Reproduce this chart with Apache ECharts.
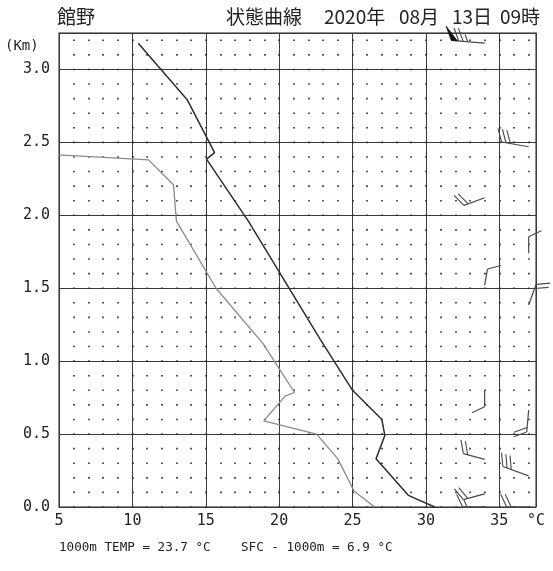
<!DOCTYPE html>
<html>
<head>
<meta charset="utf-8">
<script src="https://cdn.jsdelivr.net/npm/echarts@6/dist/echarts.min.js"></script>
<style>
  html, body { margin: 0; padding: 0; background: #ffffff; }
  #chart { width: 553px; height: 571px; }
</style>
</head>
<body>
<div id="chart"></div>
<script>
// Station and time stamp
const stationName = '館野';
const headerParts = ['状態曲線', '2020年', '08月', '13日', '09時'];

// Axis ranges and ticks
const tempMin = 5, tempMax = 37.5, tempStep = 5;
const kmMin = 0, kmMax = 3.25, kmStep = 0.5;
const unitLabel = '°C';
const kmLabel = '(Km)';

// Temperature profile (°C) against height (km)
const tempKm = [0.00, 0.08, 0.33, 0.49, 0.60, 0.80, 1.15, 1.96, 2.385, 2.43, 2.79, 3.18];
const tempC  = [30.6, 28.8, 26.6, 27.2, 27.0, 25.0, 22.8, 17.9, 15.05, 15.6, 13.75, 10.4];

// Dew point profile (°C) against height (km)
const dewKm = [0.00, 0.11, 0.33, 0.50, 0.59, 0.76, 0.785, 1.12, 1.50, 1.96, 2.21, 2.38, 2.47];
const dewC  = [26.5, 25.1, 24.0, 22.55, 18.95, 20.4, 21.05, 18.9, 15.7, 13.0, 12.8, 11.1, -5.0];

// Winds: plotting column (°C position), height (km), direction (deg), speed (kt)
const windCol = [34, 37, 34, 37, 34, 37, 34, 37, 34, 37, 34, 34, 37];
const windKm  = [3.18, 2.47, 2.12, 1.74, 1.52, 1.385, 0.80, 0.665, 0.327, 0.213, 0.09, 0.0, 0.0];
const windDir = [275, 280, 250, 360, 10, 20, 180, 185, 285, 290, 255, 270, 270];
const windKt  = [75, 30, 20, 10, 10, 20, 10, 20, 20, 30, 20, 15, 20];

// Summary values
const temp1000m = 23.7;
const sfcMinus1000m = 6.9;

const tempSeries = tempC.map((t, i) => [t, tempKm[i]]);
const dewSeries = dewC.map((t, i) => [t, dewKm[i]]);
const windSeries = windCol.map((c, i) => [c, windKm[i], windDir[i], windKt[i]]);

const monoFont = '"DejaVu Sans Mono", monospace';
const cjkFont = '"Noto Sans CJK JP", sans-serif';

// Height of 0.1 km in pixels, used for the dotted minor grid
const gridTop = 33, gridBottom = 64, chartH = 571;
const plotH = chartH - gridTop - gridBottom;
const tenthKmPx = plotH / ((kmMax - kmMin) * 10);

function renderBarb(params, api) {
  const base = api.coord([api.value(0), api.value(1)]);
  const a = api.value(2) * Math.PI / 180;
  const kt = api.value(3);
  const ux = Math.sin(a), uy = -Math.cos(a);
  const rx = -uy, ry = ux;
  const ang = 65 * Math.PI / 180;
  const fx = Math.cos(ang) * ux + Math.sin(ang) * rx;
  const fy = Math.cos(ang) * uy + Math.sin(ang) * ry;
  const pennants = Math.floor(kt / 50);
  const rest = kt - pennants * 50;
  const full = Math.floor(rest / 10);
  const half = (rest % 10) >= 5 ? 1 : 0;
  const step = 4.5, fLen = 14;
  const len = 11 + 6 * pennants + 5.5 * (full + half);
  const tip = [base[0] + ux * len, base[1] + uy * len];
  const stroke = '#4a4a4a';
  const children = [{
    type: 'line',
    shape: { x1: base[0], y1: base[1], x2: tip[0], y2: tip[1] },
    style: { stroke: stroke, lineWidth: 1.2 }
  }];
  let d = 0;
  for (let p = 0; p < pennants; p++) {
    const p0 = [tip[0] - ux * d, tip[1] - uy * d];
    const p1 = [tip[0] - ux * (d + 6), tip[1] - uy * (d + 6)];
    const apex = [p0[0] + fx * 15, p0[1] + fy * 15];
    children.push({
      type: 'polygon',
      shape: { points: [p0, p1, apex] },
      style: { fill: '#111', stroke: '#111', lineWidth: 0.8 }
    });
    d += 7.5;
  }
  for (let k = 0; k < full; k++) {
    const s0 = [tip[0] - ux * d, tip[1] - uy * d];
    children.push({
      type: 'line',
      shape: { x1: s0[0], y1: s0[1], x2: s0[0] + fx * fLen, y2: s0[1] + fy * fLen },
      style: { stroke: stroke, lineWidth: 1.1 }
    });
    d += step;
  }
  if (half) {
    if (d === 0) d = step;
    const s0 = [tip[0] - ux * d, tip[1] - uy * d];
    children.push({
      type: 'line',
      shape: { x1: s0[0], y1: s0[1], x2: s0[0] + fx * fLen * 0.55, y2: s0[1] + fy * fLen * 0.55 },
      style: { stroke: stroke, lineWidth: 1.1 }
    });
  }
  return { type: 'group', children: children };
}

const headerX = [226, 324, 399, 452, 500];
const graphics = [
  { type: 'text', x: 57, y: 17, style: { text: stationName, font: '19px ' + cjkFont, fill: '#222', verticalAlign: 'middle' } }
].concat(headerParts.map((t, i) => ({
  type: 'text', x: headerX[i], y: 17,
  style: { text: t, font: '19px ' + cjkFont, fill: '#222', verticalAlign: 'middle' }
}))).concat([
  { type: 'text', x: 5, y: 46, style: { text: kmLabel, font: '14px ' + monoFont, fill: '#222', verticalAlign: 'middle' } },
  { type: 'text', x: 59, y: 548,
    style: { text: '1000m TEMP = ' + temp1000m.toFixed(1) + ' °C    SFC - 1000m = ' + sfcMinus1000m.toFixed(1) + ' °C',
             font: '12.6px ' + monoFont, fill: '#222', verticalAlign: 'middle' } }
]);

const chart = echarts.init(document.getElementById('chart'), null, { renderer: 'canvas' });
chart.setOption({
  animation: false,
  backgroundColor: '#ffffff',
  grid: {
    left: 59, right: 17, top: gridTop, bottom: gridBottom,
    show: true, borderColor: '#6a6a6a', borderWidth: 1.5, backgroundColor: 'transparent'
  },
  xAxis: [{
    type: 'value', min: tempMin, max: tempMax, interval: tempStep,
    axisLine: { show: false }, axisTick: { show: false },
    axisLabel: {
      margin: 7, color: '#222', fontFamily: monoFont, fontSize: 15,
      formatter: v => (v === tempMax ? unitLabel : String(v))
    },
    splitLine: { show: true, lineStyle: { color: '#3a3a3a', width: 1 } }
  }, {
    // 1 °C columns carrying the 0.1 km dot pattern
    type: 'value', min: tempMin, max: tempMax, interval: 1, position: 'bottom',
    axisLine: { show: false }, axisTick: { show: false }, axisLabel: { show: false },
    splitLine: {
      show: true, showMinLine: false, showMaxLine: false,
      lineStyle: {
        color: '#2a2a2a', width: 1.6,
        type: [1.6, tenthKmPx - 1.6],
        dashOffset: tenthKmPx / 2 + 0.8
      }
    }
  }],
  yAxis: {
    type: 'value', min: kmMin, max: kmMax, interval: kmStep,
    axisLine: { show: false }, axisTick: { show: false },
    axisLabel: {
      margin: 9, color: '#222', fontFamily: monoFont, fontSize: 15,
      formatter: v => (Math.abs(v / kmStep - Math.round(v / kmStep)) < 1e-6 ? v.toFixed(1) : '')
    },
    splitLine: { show: true, lineStyle: { color: '#3a3a3a', width: 1 } }
  },
  series: [
    {
      name: 'dewpoint', type: 'line', xAxisIndex: 0, data: dewSeries,
      showSymbol: false, clip: true,
      lineStyle: { color: '#8a8a8a', width: 1.3 }, z: 3
    },
    {
      name: 'temperature', type: 'line', xAxisIndex: 0, data: tempSeries,
      showSymbol: false, clip: true,
      lineStyle: { color: '#2e2e2e', width: 1.5 }, z: 4
    },
    {
      name: 'wind', type: 'custom', xAxisIndex: 0, data: windSeries,
      renderItem: renderBarb, clip: false, z: 5
    }
  ],
  graphic: graphics
});
</script>
</body>
</html>
